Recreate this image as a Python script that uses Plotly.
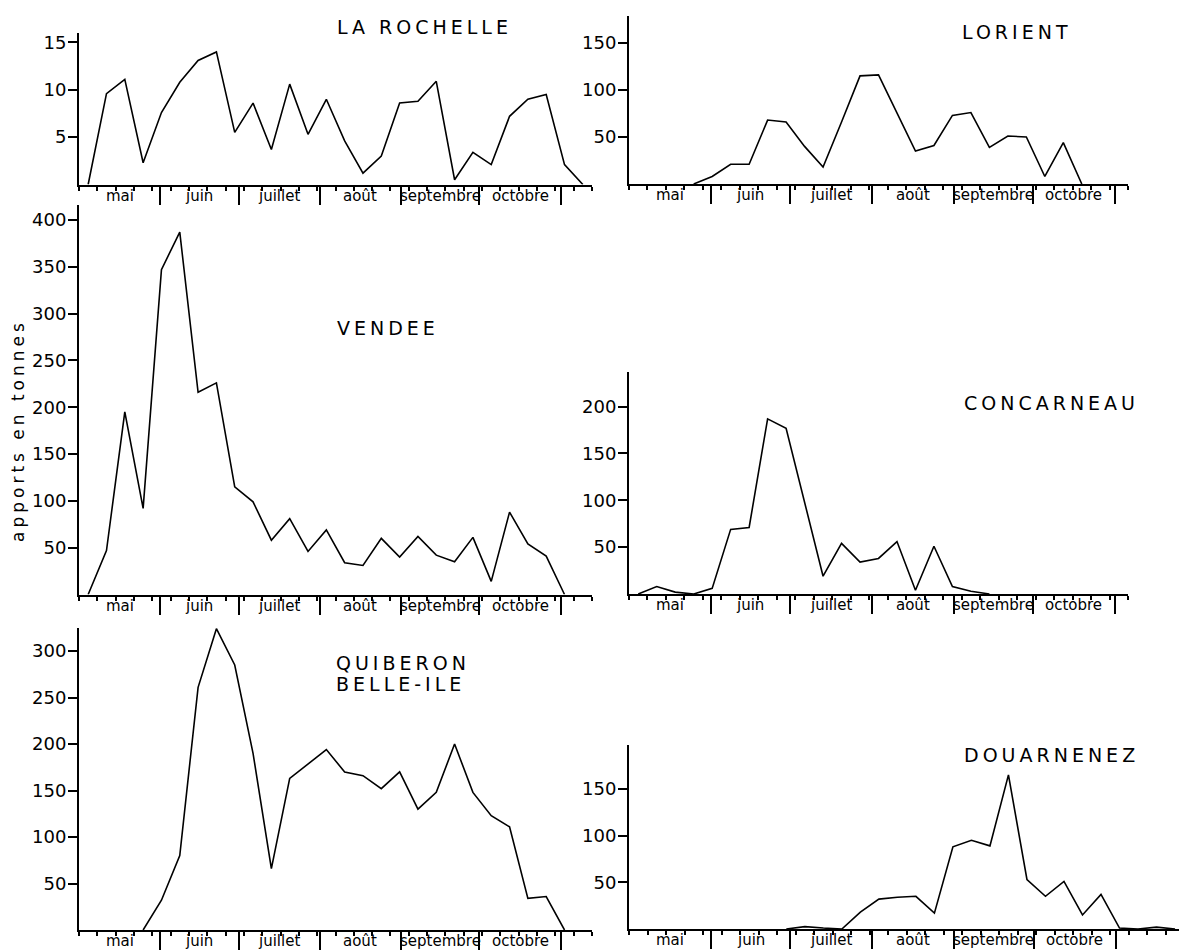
import pandas as pd
import plotly.graph_objects as go

W, H = 1179, 952
FONT = "DejaVu Sans"

# Weekly landings in tonnes; each value is plotted at the middle of its week
# (weeks counted from 1 May). None = no catch recorded / no line drawn.
week_mid = pd.date_range("1958-05-04 12:00", periods=30, freq="7D")

la_rochelle = [0, 9.6, 11.1, 2.3, 7.6, 10.8, 13.1, 14.0, 5.5, 8.6, 3.7, 10.6, 5.3, 9.0,
               4.6, 1.2, 3.0, 8.6, 8.8, 10.9, 0.5, 3.4, 2.1, 7.2, 9.0, 9.5, 2.1, 0]
lorient = [None, None, None, 0, 8, 21, 21, 68, 66, 40, 18, 66, 115, 116, 75, 35, 41,
           73, 76, 39, 51, 50, 8, 44, 0]
vendee = [0, 47, 195, 92, 347, 387, 216, 226, 115, 99, 58, 81, 46, 69, 34, 31, 60, 40,
          62, 42, 35, 61, 14, 88, 54, 41, 0]
concarneau = [0, 8, 2, 0, 6, 69, 71, 187, 177, 99, 19, 54, 34, 38, 56, 4, 51, 8, 3, 0]
quiberon = [None, None, None, 0, 32, 80, 261, 324, 285, 190, 66, 163, 179, 194, 170,
            166, 152, 170, 130, 148, 200, 148, 123, 111, 34, 36, 0]
douarnenez = [None] * 8 + [0, 2.5, 1, 0, 18, 32, 34, 35, 17, 88, 95, 89, 165, 53, 35,
                           51, 15, 37, 1, 0, 2, 0]

month_names = ["mai", "juin", "juillet", "août", "septembre", "octobre"]
month_starts = pd.date_range("1958-05-01", periods=7, freq="MS")
month_mids = [month_starts[i] + (month_starts[i + 1] - month_starts[i]) / 2 for i in range(6)]

yt_small = [5, 10, 15]
yt_50 = [50, 100, 150]
yt_200 = [50, 100, 150, 200]
yt_300 = [50, 100, 150, 200, 250, 300]
yt_400 = [50, 100, 150, 200, 250, 300, 350, 400]

# panel layout: (title lines, series, x px [left,right], y px [top,bottom], y top value,
#                y ticks, last day of x axis, title position px)
panels = [
    (["LA ROCHELLE"], la_rochelle, (79, 592), (33, 184.5), 16.0, yt_small, "1958-11-13", (335, 27)),
    (["LORIENT"], lorient, (629, 1128), (16, 184), 178.7, yt_50, "1958-11-06", (960, 32)),
    (["VENDEE"], vendee, (79, 592), (205, 594.5), 416, yt_400, "1958-11-13", (335, 328)),
    (["CONCARNEAU"], concarneau, (629, 1128), (372, 594), 237, yt_200, "1958-11-06", (962, 403)),
    (["QUIBERON", "BELLE-ILE"], quiberon, (79, 592), (627.8, 930), 325, yt_300, "1958-11-13", (334, 663)),
    (["DOUARNENEZ"], douarnenez, (629, 1179), (745, 929), 197, yt_50, "1958-11-25", (962, 755)),
]

fig = go.Figure()
annotations = []
week_ms = 7 * 86400000

for i, (title, series, xpx, ypx, ytop, yticks, xend, tpos) in enumerate(panels):
    n = i + 1
    xa = "x" if n == 1 else f"x{n}"
    ya = "y" if n == 1 else f"y{n}"
    fig.add_trace(go.Scatter(
        x=week_mid[:len(series)], y=series, mode="lines",
        line=dict(color="black", width=1.6), xaxis=xa, yaxis=ya,
        showlegend=False, hoverinfo="skip", connectgaps=False,
    ))
    xkey = "xaxis" if n == 1 else f"xaxis{n}"
    ykey = "yaxis" if n == 1 else f"yaxis{n}"
    fig.layout[xkey] = dict(
        type="date", range=["1958-05-01", xend],
        domain=[xpx[0] / W, min(xpx[1] / W, 1.0)], anchor=ya,
        showline=True, linecolor="black", linewidth=2,
        showgrid=False, zeroline=False,
        tickmode="array", tickvals=list(month_starts[1:]),
        ticktext=[""] * 6, ticks="outside", ticklen=18, tickwidth=1.5, tickcolor="black",
        minor=dict(ticks="outside", ticklen=4, tickwidth=1.5, tickcolor="black",
                   tick0="1958-05-01", dtick=week_ms, showgrid=False),
        fixedrange=True,
    )
    fig.layout[ykey] = dict(
        range=[0, ytop], domain=[1 - ypx[1] / H, 1 - ypx[0] / H], anchor=xa,
        showline=True, linecolor="black", linewidth=2,
        showgrid=False, zeroline=False,
        tickmode="array", tickvals=yticks, ticks="outside", ticklen=9,
        tickwidth=1.5, tickcolor="black", ticklabelstandoff=-2,
        tickfont=dict(family=FONT, size=18, color="black"),
        fixedrange=True,
    )
    # month names centred in each month, under the axis
    for name, mid in zip(month_names, month_mids):
        annotations.append(dict(
            x=mid, y=0, xref=xa, yref=f"{ya} domain", yshift=-11,
            text=name, showarrow=False, xanchor="center", yanchor="middle",
            font=dict(family=FONT, size=15, color="black"),
        ))
    # port name
    for j, line in enumerate(title):
        annotations.append(dict(
            x=tpos[0] / W, y=1 - (tpos[1] + 21 * j) / H, xref="paper", yref="paper",
            text=f'<span style="letter-spacing:4px">{line}</span>',
            showarrow=False, xanchor="left", yanchor="middle",
            font=dict(family=FONT, size=19, color="black"),
        ))

annotations.append(dict(
    x=18 / W, y=1 - 431 / H, xref="paper", yref="paper",
    text='<span style="letter-spacing:4px">apports en tonnes</span>',
    textangle=-90, showarrow=False, xanchor="center", yanchor="middle",
    font=dict(family=FONT, size=17, color="black"),
))

fig.update_layout(
    width=W, height=H, margin=dict(l=0, r=0, t=0, b=0),
    paper_bgcolor="white", plot_bgcolor="white",
    annotations=annotations, showlegend=False,
)

fig.write_html("out.html")
